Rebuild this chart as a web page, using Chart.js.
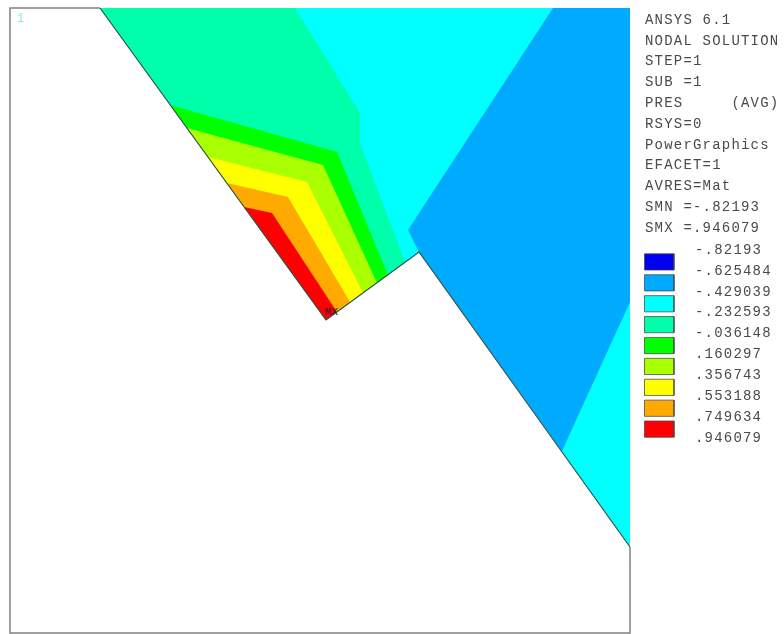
<!DOCTYPE html>
<html lang="en">
<head>
    <meta charset="UTF-8">
    <title>ANSYS nodal solution PRES</title>
    <script src="https://cdn.jsdelivr.net/npm/chart.js"></script>
    <style>
        html, body { margin: 0; padding: 0; background: #fff; }
        canvas { display: block; filter: blur(0.5px); }
    </style>
</head>
<body>
    <canvas id="contourChart" width="784" height="634"></canvas>

    <script>
        // header text of the ANSYS plot
        const infoLines = ['ANSYS 6.1', 'NODAL SOLUTION', 'STEP=1', 'SUB =1', 'PRES     (AVG)', 'RSYS=0',
            'PowerGraphics', 'EFACET=1', 'AVRES=Mat', 'SMN =-.82193', 'SMX =.946079'];

        // contour levels
        const levelLabels = ['-.82193', '-.625484', '-.429039', '-.232593', '-.036148', '.160297', '.356743', '.553188', '.749634', '.946079'];
        const levelValues = [-0.82193, -0.625484, -0.429039, -0.232593, -0.036148, 0.160297, 0.356743, 0.553188, 0.749634, 0.946079];

        // contour regions (x, y in plot units)
        const cyanX = [100, 630, 630, 419, 326];
        const cyanY = [8, 8, 547, 252, 320];
        const blueX = [553, 630, 630, 562, 419, 408];
        const blueY = [8, 8, 302, 451, 252, 230];
        const tealX = [100, 295, 360, 360, 405, 326];
        const tealY = [8, 8, 113, 143, 262, 320];
        const greenX = [170, 337, 388, 326];
        const greenY = [105, 152, 275, 320];
        const limeX = [187, 323, 377, 326];
        const limeY = [128, 165, 283, 320];
        const yellowX = [208, 307, 363, 326];
        const yellowY = [157, 182, 293, 320];
        const orangeX = [227, 288, 350, 326];
        const orangeY = [183, 197, 302, 320];
        const redX = [244, 272, 337, 326];
        const redY = [207, 213, 312, 320];

        // outlines of the model and the plot frame
        const frameX = [100, 10, 10, 630, 630];
        const frameY = [8, 8, 633, 633, 547];
        const edgeX = [100, 326, 419, 630];
        const edgeY = [8, 320, 252, 547];

        const bandColors = ['#0000f0', '#00aaff', '#00ffff', '#00ffaa', '#00ff00', '#aaff00', '#ffff00', '#ffaa00', '#ff0000'];

        function toPoints(xs, ys) {
            return xs.map((x, i) => ({ x: x, y: ys[i] }));
        }

        function region(xs, ys, color) {
            return {
                data: toPoints(xs, ys),
                backgroundColor: color,
                borderColor: color,
                borderWidth: 0,
                fill: 'shape',
                showLine: true,
                pointRadius: 0,
                tension: 0
            };
        }

        function outline(xs, ys, color, width) {
            return {
                data: toPoints(xs, ys),
                borderColor: color,
                borderWidth: width,
                fill: false,
                showLine: true,
                pointRadius: 0,
                tension: 0
            };
        }

        // one legend box per band, spanning two levels on the level axis
        const swatches = bandColors.map((color, i) => {
            const top = levelValues[i] + 0.022;
            const bottom = levelValues[i + 1] - 0.022;
            return {
                data: [{ x: 644.5, y: top }, { x: 674, y: top }, { x: 674, y: bottom }, { x: 644.5, y: bottom }, { x: 644.5, y: top }],
                yAxisID: 'level',
                backgroundColor: color,
                borderColor: 'rgba(70, 70, 70, 0.75)',
                borderWidth: 1,
                fill: 'shape',
                showLine: true,
                pointRadius: 0,
                tension: 0
            };
        });

        const textPlugin = {
            id: 'plotText',
            afterDatasetsDraw(chart) {
                const ctx = chart.ctx;
                const levelScale = chart.scales.level;
                ctx.save();
                ctx.textBaseline = 'middle';
                ctx.textAlign = 'left';
                ctx.font = '14px "Liberation Mono"';
                ctx.letterSpacing = '1.2px';
                ctx.fillStyle = '#4a4a4a';
                infoLines.forEach((line, i) => {
                    ctx.fillText(line, 645, 20 + i * 20.8);
                });
                levelLabels.forEach((label, i) => {
                    ctx.fillText(label, 695, levelScale.getPixelForValue(levelValues[i]) - 1.5);
                });
                ctx.letterSpacing = '0px';
                ctx.font = '12px "Liberation Mono"';
                ctx.fillStyle = '#8fe6e6';
                ctx.fillText('1', 17, 19);
                ctx.font = 'bold 11px "Liberation Mono"';
                ctx.fillStyle = 'rgba(50, 30, 50, 0.8)';
                ctx.fillText('MX', 325, 312);
                ctx.restore();
            }
        };

        // chart.js paints the first dataset last, so the list runs top layer to bottom layer
        const layers = [
            region(cyanX, cyanY, bandColors[2]),
            region(blueX, blueY, bandColors[1]),
            region(tealX, tealY, bandColors[3]),
            region(greenX, greenY, bandColors[4]),
            region(limeX, limeY, bandColors[5]),
            region(yellowX, yellowY, bandColors[6]),
            region(orangeX, orangeY, bandColors[7]),
            region(redX, redY, bandColors[8]),
            outline(frameX, frameY, '#808080', 1.5),
            outline(edgeX, edgeY, '#2f4f4f', 1.2)
        ].concat(swatches).reverse();

        new Chart(document.getElementById('contourChart').getContext('2d'), {
            type: 'scatter',
            data: { datasets: layers },
            options: {
                responsive: false,
                animation: false,
                layout: { padding: 0 },
                plugins: { legend: { display: false }, tooltip: { enabled: false } },
                scales: {
                    x: { type: 'linear', display: false, min: 0, max: 784 },
                    y: { type: 'linear', display: false, min: 0, max: 634, reverse: true },
                    // levels run 20.9 px apart, first one at y = 251.5
                    level: { type: 'linear', display: false, reverse: true, min: -0.82193 - 251.5 * 0.0094, max: -0.82193 + 382.5 * 0.0094 }
                }
            },
            plugins: [textPlugin]
        });
    </script>
</body>
</html>
